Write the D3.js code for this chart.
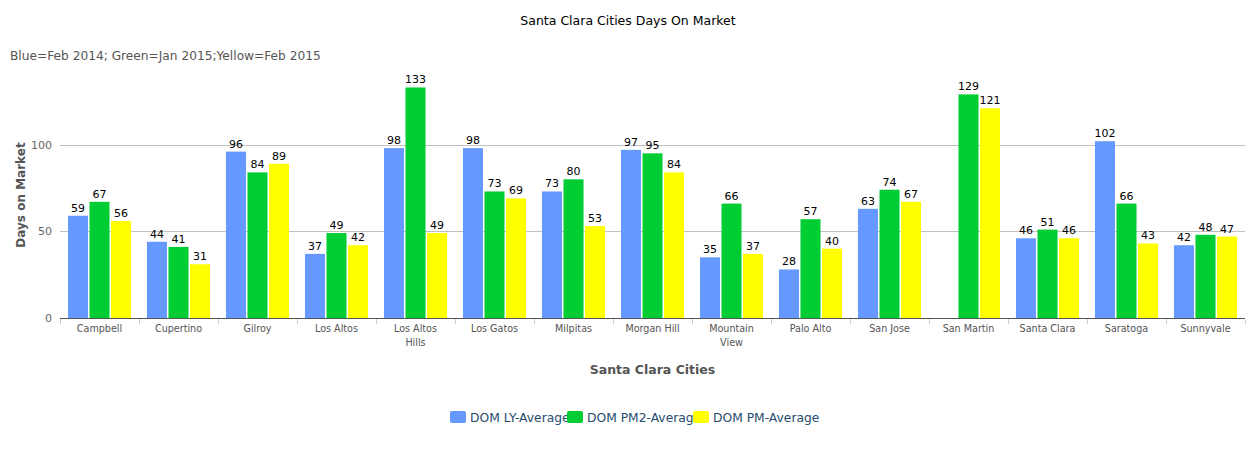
<!DOCTYPE html>
<html>
<head>
<meta charset="utf-8">
<script src="https://cdn.jsdelivr.net/npm/d3@7"></script>
<style>
  body { margin: 0; background: #fff; }
  svg { font-family: "DejaVu Sans", sans-serif; display: block; }
</style>
</head>
<body>
<svg id="chart" width="1256" height="450"></svg>
<script>
const cities = ["Campbell", "Cupertino", "Gilroy", "Los Altos", "Los Altos Hills", "Los Gatos",
  "Milpitas", "Morgan Hill", "Mountain View", "Palo Alto", "San Jose", "San Martin",
  "Santa Clara", "Saratoga", "Sunnyvale"];
const cityLabels = [["Campbell"], ["Cupertino"], ["Gilroy"], ["Los Altos"], ["Los Altos", "Hills"],
  ["Los Gatos"], ["Milpitas"], ["Morgan Hill"], ["Mountain", "View"], ["Palo Alto"], ["San Jose"],
  ["San Martin"], ["Santa Clara"], ["Saratoga"], ["Sunnyvale"]];
const seriesNames = ["DOM LY-Average", "DOM PM2-Average", "DOM PM-Average"];
const domLY  = [59, 44, 96, 37, 98, 98, 73, 97, 35, 28, 63, null, 46, 102, 42];
const domPM2 = [67, 41, 84, 49, 133, 73, 80, 95, 66, 57, 74, 129, 51, 66, 48];
const domPM  = [56, 31, 89, 42, 49, 69, 53, 84, 37, 40, 67, 121, 46, 43, 47];
const yTicks = [0, 50, 100];
const colors = ["#6699ff", "#00cc33", "#ffff00"];

const svg = d3.select("#chart");
const margin = { left: 60, right: 11, top: 58, bottom: 132 };
const W = 1256, H = 450;
const baseY = H - margin.bottom;

const x = d3.scaleBand().domain(cities).range([margin.left, W - margin.right]).paddingInner(0).paddingOuter(0);
const xs = d3.scaleBand().domain(seriesNames).range([0, x.bandwidth()]).paddingInner(0.07).paddingOuter(0.37);
const y = d3.scaleLinear().domain([0, 150]).range([baseY, margin.top]);

const rows = cities.map((c, i) => ({ city: c, values: [domLY[i], domPM2[i], domPM[i]] }));

// gridlines
svg.append("g").selectAll("line").data(yTicks.filter(t => t > 0)).join("line")
  .attr("x1", margin.left).attr("x2", W - margin.right)
  .attr("y1", d => Math.round(y(d)) + 0.5).attr("y2", d => Math.round(y(d)) + 0.5)
  .attr("stroke", "#c0c0c0");

// y tick labels
svg.append("g").selectAll("text").data(yTicks).join("text")
  .attr("x", margin.left - 8).attr("y", d => y(d) + 4)
  .attr("text-anchor", "end").attr("font-size", 11).attr("fill", "#666")
  .text(d => d);

// bars
const groups = svg.append("g").selectAll("g").data(rows).join("g")
  .attr("transform", d => `translate(${x(d.city)},0)`);

groups.selectAll("rect").data(d => d.values.map((v, k) => ({ v, k })).filter(e => e.v != null)).join("rect")
  .attr("x", e => xs(seriesNames[e.k]))
  .attr("width", xs.bandwidth())
  .attr("y", e => y(e.v))
  .attr("height", e => baseY - y(e.v))
  .attr("fill", e => colors[e.k]);

groups.selectAll("text").data(d => d.values.map((v, k) => ({ v, k })).filter(e => e.v != null)).join("text")
  .attr("x", e => xs(seriesNames[e.k]) + xs.bandwidth() / 2)
  .attr("y", e => y(e.v) - 4)
  .attr("text-anchor", "middle").attr("font-size", 11).attr("fill", "#000")
  .text(e => e.v);

// x axis line and ticks
svg.append("line")
  .attr("x1", margin.left).attr("x2", W - margin.right)
  .attr("y1", baseY + 0.5).attr("y2", baseY + 0.5)
  .attr("stroke", "#555").attr("stroke-width", 1.2);

const bounds = cities.map(c => x(c)).concat([x.range()[1]]);
svg.append("g").selectAll("line").data(bounds).join("line")
  .attr("x1", d => Math.round(d) + 0.5).attr("x2", d => Math.round(d) + 0.5)
  .attr("y1", baseY + 1).attr("y2", baseY + 6)
  .attr("stroke", "#c0d0e0");

svg.append("g").selectAll("text").data(cities).join("text")
  .attr("text-anchor", "middle").attr("font-size", 9.6).attr("fill", "#555")
  .attr("transform", d => `translate(${x(d) + x.bandwidth() / 2},${baseY + 14})`)
  .selectAll("tspan").data((d, i) => cityLabels[i]).join("tspan")
  .attr("x", 0).attr("dy", (d, j) => j === 0 ? 0 : 14)
  .text(d => d);

// titles
svg.append("text").attr("x", 628).attr("y", 25).attr("text-anchor", "middle")
  .attr("font-size", 12.5).attr("fill", "#000").text("Santa Clara Cities Days On Market");

svg.append("text").attr("x", 10).attr("y", 60).attr("font-size", 12.2).attr("fill", "#555")
  .text("Blue=Feb 2014; Green=Jan 2015;Yellow=Feb 2015");

svg.append("text").attr("transform", `translate(25,195) rotate(-90)`)
  .attr("text-anchor", "middle").attr("font-size", 12).attr("font-weight", "bold").attr("fill", "#555")
  .text("Days on Market");

svg.append("text").attr("x", (margin.left + W - margin.right) / 2).attr("y", 374)
  .attr("text-anchor", "middle").attr("font-size", 12.5).attr("font-weight", "bold").attr("fill", "#555")
  .text("Santa Clara Cities");

// legend
const legendX = [450, 567, 693];
const legend = svg.append("g").selectAll("g").data(seriesNames).join("g")
  .attr("transform", (d, i) => `translate(${legendX[i]},411)`);
legend.append("text").attr("x", 20).attr("y", 11).attr("font-size", 12.3).attr("fill", "#274b6d")
  .text(d => d);
legend.append("rect").attr("width", 16).attr("height", 12).attr("rx", 2)
  .attr("fill", (d, i) => colors[i]);
</script>
</body>
</html>
